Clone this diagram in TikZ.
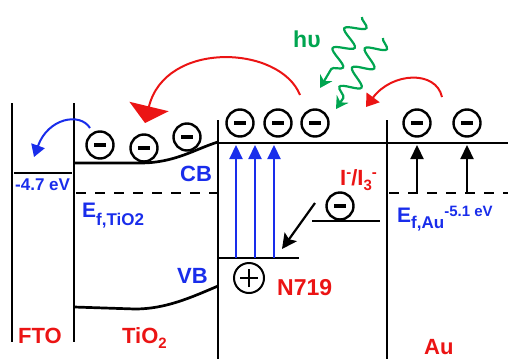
\documentclass[tikz,border=0pt]{standalone}
\usepackage{fontspec}
\setmainfont{Liberation Sans}
\usetikzlibrary{arrows.meta,decorations.pathmorphing}
\definecolor{myblue}{RGB}{25,45,235}
\definecolor{myred}{RGB}{235,20,20}
\definecolor{mygreen}{RGB}{0,165,80}
\begin{document}
\begin{tikzpicture}[x=1pt,y=-1pt,
  band/.style={line width=2.7pt},
  dashband/.style={line width=2.5pt,dash pattern=on 10pt off 9pt},
  elec/.style={circle,draw,line width=2.4pt,minimum size=27pt,inner sep=0pt,fill=white},
  hole/.style={circle,draw,line width=2pt,minimum size=30pt,inner sep=0pt,
    path picture={\draw[line width=2pt]
      ([xshift=-9pt]path picture bounding box.center) -- ([xshift=9pt]path picture bounding box.center)
      ([yshift=-9pt]path picture bounding box.center) -- ([yshift=9pt]path picture bounding box.center);}},
  lbl/.style={font=\bfseries, anchor=base west, inner sep=0pt},
  uparrow/.style={line width=2.2pt,-{Triangle[width=13pt,length=14pt]}},
  wave/.style={mygreen,line width=2.2pt,decorate,
    decoration={snake,amplitude=9.5pt,segment length=23pt,post length=12pt},
    -{Stealth[width=14pt,length=12pt,inset=4pt]}}
]
\useasboundingbox (0,0) rectangle (508,359);

% band structure
\draw[band] (12,103) -- (12,342);
\draw[band] (74,103) -- (74,342);
\draw[band] (218,120) -- (218,359);
\draw[band] (387,120) -- (387,359);
\draw[band] (14,173) -- (72,173);
\draw[band] (218,143) -- (508,143);
\draw[band] (74,163) -- (140,163) .. controls (175,163) and (195,149) .. (218,142);
\draw[band] (74,307) -- (135,309) .. controls (165,309) and (190,298) .. (218,286);
\draw[dashband] (76,193) -- (218,193);
\draw[dashband] (389,193) -- (508,193);
\draw[band] (218,258) -- (299,258);
\draw[band] (312,221) -- (380,221);

% coordinates for connectors
\coordinate (n1) at (236,258); \coordinate (c1) at (236,145);
\coordinate (n2) at (255,258); \coordinate (c2) at (255,145);
\coordinate (n3) at (274,258); \coordinate (c3) at (274,145);
\coordinate (a1) at (417,193); \coordinate (ac1) at (417,145);
\coordinate (a2) at (467,193); \coordinate (ac2) at (467,145);
\coordinate (rs) at (300,95); \coordinate (re) at (145,123);
\coordinate (ss) at (442,97); \coordinate (se) at (366,107);
\coordinate (bs) at (90,128); \coordinate (be) at (34,157);
\coordinate (ks) at (315,203); \coordinate (ke) at (282,249);
\coordinate (w1s) at (362,17); \coordinate (w1e) at (320,88);
\coordinate (w2s) at (383,38); \coordinate (w2e) at (336,109);

% excitation arrows
\draw[uparrow,myblue] (n1) -- (c1);
\draw[uparrow,myblue] (n2) -- (c2);
\draw[uparrow,myblue] (n3) -- (c3);
\draw[uparrow,black] (a1) -- (ac1);
\draw[uparrow,black] (a2) -- (ac2);

% electrons and hole
\node[elec] (e1) at (100,145) {\rule{12pt}{4.5pt}};
\node[elec] (e2) at (144,148) {\rule{12pt}{4.5pt}};
\node[elec] (e3) at (187,137) {\rule{12pt}{4.5pt}};
\node[elec] (e4) at (240,123) {\rule{12pt}{4.5pt}};
\node[elec] (e5) at (278,123) {\rule{12pt}{4.5pt}};
\node[elec] (e6) at (315,123) {\rule{12pt}{4.5pt}};
\node[elec] (e7) at (417,123) {\rule{12pt}{4.5pt}};
\node[elec] (e8) at (467,123) {\rule{12pt}{4.5pt}};
\node[elec] (e9) at (340,206) {\rule{12pt}{4.5pt}};
\node[hole] (h1) at (249,278) {};

% curved transfer arrows
\draw[myred,line width=2pt,-{Triangle[width=40pt,length=17pt]}] (rs) .. controls (280,45) and (165,40) .. (re);
\draw[myred,line width=2pt,-{Triangle[width=16pt,length=12pt]}] (ss) .. controls (436,70) and (392,72) .. (se);
\draw[myblue,line width=2pt,-{Triangle[width=14pt,length=12pt]}] (bs) .. controls (80,112) and (48,118) .. (be);
\draw[black,line width=2.2pt,-{Stealth[width=15pt,length=15pt,inset=3pt]}] (ks) -- (ke);

% light
\draw[wave] (w1s) -- (w1e);
\draw[wave] (w2s) -- (w2e);

% labels
\node[lbl,mygreen,font=\bfseries\fontsize{23}{23}\selectfont] (hv) at (293,47) {hυ};
\node[lbl,myblue,font=\bfseries\fontsize{17}{17}\selectfont] (fto ev) at (15,190) {-4.7 eV};
\node[lbl,myblue,font=\bfseries\fontsize{22}{22}\selectfont] (cb) at (180,181) {CB};
\node[lbl,myblue,font=\bfseries\fontsize{22}{22}\selectfont] (vb) at (177,283) {VB};
\node[lbl,myblue] (eft) at (82,217) {{\fontsize{21}{21}\selectfont E}\raisebox{-8pt}{\fontsize{17}{17}\selectfont f,TiO2}};
\node[lbl,myblue] (efa) at (397,222) {{\fontsize{21}{21}\selectfont E}\raisebox{-6pt}{\fontsize{17}{17}\selectfont f,Au}\raisebox{6pt}{\fontsize{15}{15}\selectfont -5.1 eV}};
\node[lbl,myred] (redox) at (340,185) {{\fontsize{22}{22}\selectfont I}\raisebox{8pt}{\fontsize{15}{15}\selectfont -}{\fontsize{22}{22}\selectfont /I}\raisebox{-5pt}{\fontsize{15}{15}\selectfont 3}\raisebox{8pt}{\fontsize{15}{15}\selectfont -}};
\node[lbl,myred,font=\bfseries\fontsize{23}{23}\selectfont] (dye) at (277,295) {N719};
\node[lbl,myred,font=\bfseries\fontsize{22}{22}\selectfont] (fto) at (18,343) {FTO};
\node[lbl,myred] (tio) at (122,343) {{\fontsize{22}{22}\selectfont TiO}\raisebox{-5pt}{\fontsize{15}{15}\selectfont 2}};
\node[lbl,myred,font=\bfseries\fontsize{22}{22}\selectfont] (au) at (424,354) {Au};
\end{tikzpicture}
\end{document}
